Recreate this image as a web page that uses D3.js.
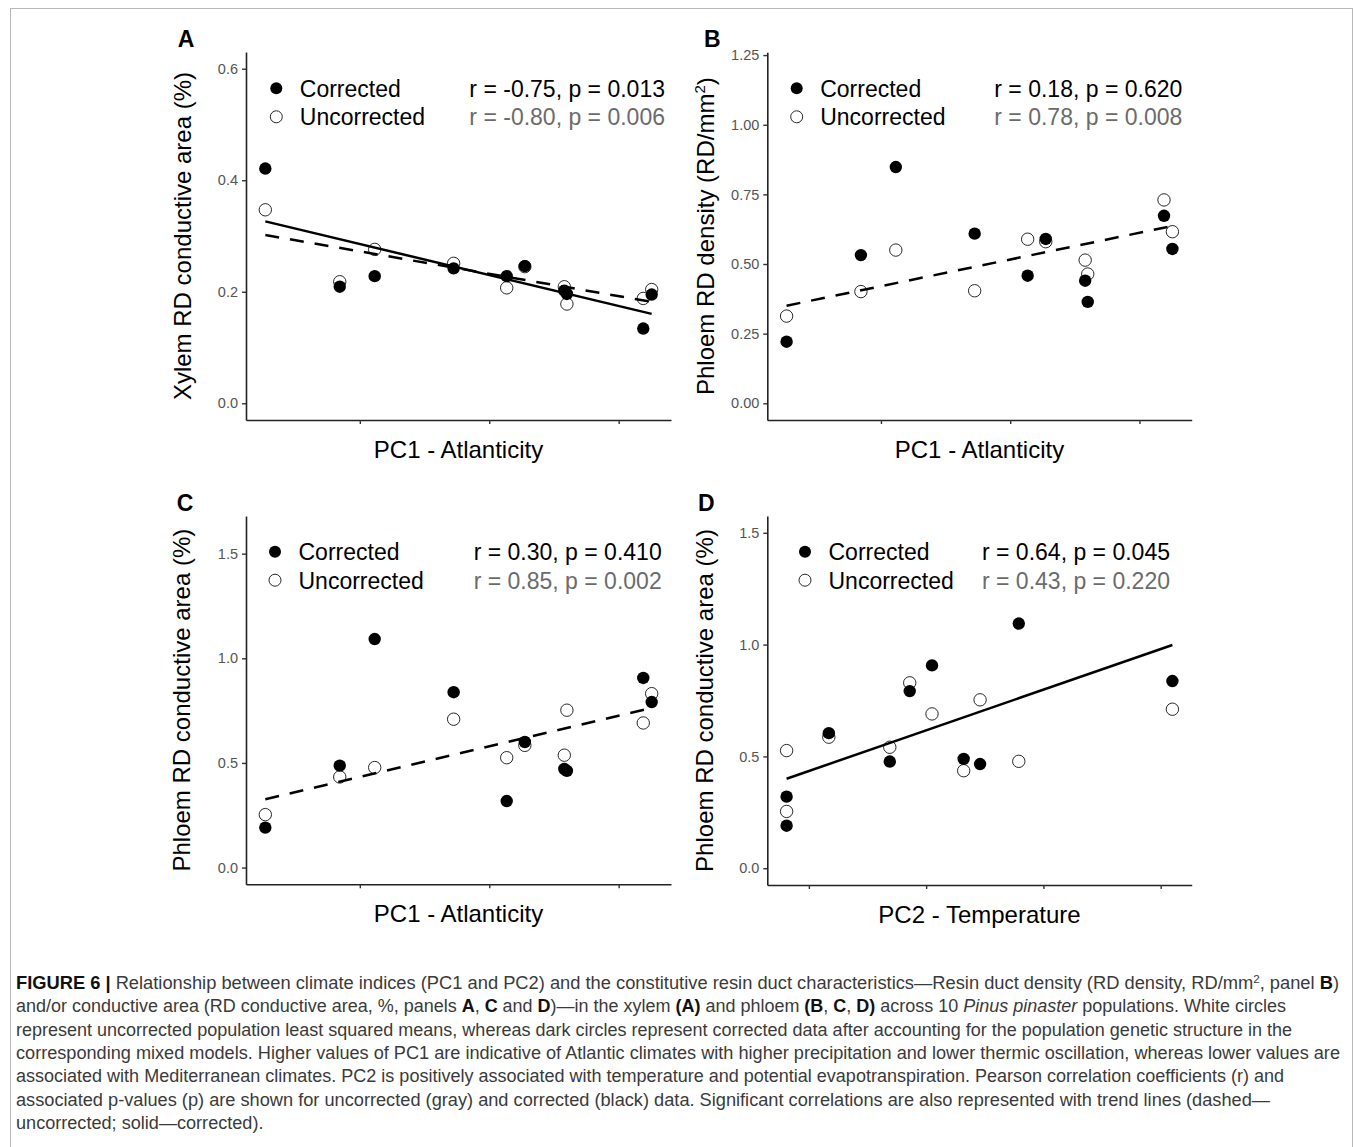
<!DOCTYPE html>
<html>
<head>
<meta charset="utf-8">
<script src="https://cdn.jsdelivr.net/npm/d3@7"></script>
<style>
  body { margin: 0; background: #fff; }
  svg { display: block; }
  text { font-family: "Liberation Sans", Arial, sans-serif; }
</style>
</head>
<body>
<svg id="fig" width="1355" height="1147"></svg>
<script>
// ---- data ----
// PC1 scores of the 10 populations (same order used in panels A, B, C)
var pc1 = [-3.46, -2.31, -1.77, -0.55, 0.27, 0.55, 1.16, 1.20, 2.38, 2.51];
// PC2 scores (order used in panel D)
var pc2 = [-1.19, -1.19, -0.83, -0.31, -0.14, 0.05, 0.32, 0.46, 0.79, 2.10];

// A - xylem RD conductive area (%)
var xylemAreaCorr = [0.421, 0.209, 0.228, 0.242, 0.228, 0.246, 0.202, 0.196, 0.134, 0.195];
var xylemAreaUnc  = [0.347, 0.218, 0.276, 0.251, 0.207, 0.245, 0.209, 0.178, 0.188, 0.204];
// B - phloem RD density (RD/mm2)
var phloemDensCorr = [0.221, 0.532, 0.848, 0.609, 0.458, 0.590, 0.440, 0.364, 0.673, 0.554];
var phloemDensUnc  = [0.313, 0.401, 0.550, 0.404, 0.589, 0.580, 0.514, 0.464, 0.730, 0.616];
// C - phloem RD conductive area (%) vs PC1
var phloemAreaCorr = [0.191, 0.487, 1.092, 0.838, 0.318, 0.600, 0.471, 0.462, 0.906, 0.791];
var phloemAreaUnc  = [0.253, 0.433, 0.478, 0.709, 0.525, 0.584, 0.537, 0.752, 0.691, 0.831];
// D - phloem RD conductive area (%) vs PC2
var phloemAreaCorrD = [0.320, 0.190, 0.604, 0.477, 0.792, 0.907, 0.489, 0.466, 1.094, 0.837];
var phloemAreaUncD  = [0.526, 0.254, 0.586, 0.541, 0.829, 0.690, 0.436, 0.753, 0.478, 0.711];

var statsA = ["r = -0.75, p = 0.013", "r = -0.80, p = 0.006"];
var statsB = ["r = 0.18, p = 0.620", "r = 0.78, p = 0.008"];
var statsC = ["r = 0.30, p = 0.410", "r = 0.85, p = 0.002"];
var statsD = ["r = 0.64, p = 0.045", "r = 0.43, p = 0.220"];

var ticksA = [0, 0.2, 0.4, 0.6];
var ticksB = [0, 0.25, 0.5, 0.75, 1, 1.25];
var ticksCD = [0, 0.5, 1, 1.5];
var xTicksPC1 = [-2, 0, 2];
var xTicksPC2 = [-1, 0, 1, 2];

var legendLabels = ["Corrected", "Uncorrected"];

var panels = [
    { letter: "A", left: 246, top: 52, width: 425, height: 368, x: pc1,
      corr: xylemAreaCorr, unc: xylemAreaUnc, yMax: 0.6, yTicks: ticksA, yFormat: ".1f",
      xTicks: xTicksPC1, fitCorr: true, fitUnc: true, stats: statsA,
      yTitle: ["Xylem RD conductive area (%)"], xTitle: "PC1 - Atlanticity",
      legX: 30.3, legY: 36.3, statsRight: 419, letterDx: -60, yTitleDx: -63 },
    { letter: "B", left: 767.3, top: 52.3, width: 424.4, height: 367.7, x: pc1,
      corr: phloemDensCorr, unc: phloemDensUnc, yMax: 1.2, yTicks: ticksB, yFormat: ".2f",
      xTicks: xTicksPC1, fitCorr: false, fitUnc: true, stats: statsB,
      yTitle: ["Phloem RD density (RD/mm", "2", ")"], xTitle: "PC1 - Atlanticity",
      legX: 29.4, legY: 36, statsRight: 415, letterDx: -55, yTitleDx: -61 },
    { letter: "C", left: 246, top: 516, width: 425, height: 368.3, x: pc1,
      corr: phloemAreaCorr, unc: phloemAreaUnc, yMax: 1.6, yTicks: ticksCD, yFormat: ".1f",
      xTicks: xTicksPC1, fitCorr: false, fitUnc: true, stats: statsC,
      yTitle: ["Phloem RD conductive area (%)"], xTitle: "PC1 - Atlanticity",
      legX: 29, legY: 35.7, statsRight: 415.7, letterDx: -61, yTitleDx: -64 },
    { letter: "D", left: 767.3, top: 516, width: 424.4, height: 369, x: pc2,
      corr: phloemAreaCorrD, unc: phloemAreaUncD, yMax: 1.5, yTicks: ticksCD, yFormat: ".1f",
      xTicks: xTicksPC2, fitCorr: true, fitUnc: false, stats: statsD,
      yTitle: ["Phloem RD conductive area (%)"], xTitle: "PC2 - Temperature",
      legX: 37.7, legY: 35.7, statsRight: 402.7, letterDx: -61, yTitleDx: -62 }
];

var svg = d3.select("#fig");

// thin grey frame of the figure box
svg.append("rect")
    .attr("x", 10.5).attr("y", 8.5)
    .attr("width", 1342).attr("height", 1160)
    .style("fill", "none")
    .style("stroke", "#b8b8b8")
    .style("stroke-width", 1);

// least squares fit, returns the line at the ends of the x range
function fitLine(xs, ys) {
    var mx = d3.mean(xs), my = d3.mean(ys);
    var sxy = d3.sum(xs, function (v, i) { return (v - mx) * (ys[i] - my); });
    var sxx = d3.sum(xs, function (v) { return (v - mx) * (v - mx); });
    var b = sxy / sxx, a = my - b * mx;
    var ext = d3.extent(xs);
    return ext.map(function (v) { return [v, a + b * v]; });
}

panels.forEach(function (p) {
    var g = svg.append("g").attr("transform", "translate(" + p.left + "," + p.top + ")");

    // ggplot style 5% expansion
    var ext = d3.extent(p.x);
    var pad = (ext[1] - ext[0]) * 0.05;
    var x = d3.scaleLinear().domain([ext[0] - pad, ext[1] + pad]).range([0, p.width]);
    var y = d3.scaleLinear().domain([-p.yMax * 0.05, p.yMax * 1.05]).range([p.height, 0]);

    var yAxis = g.append("g")
        .call(d3.axisLeft(y).tickValues(p.yTicks).tickFormat(d3.format(p.yFormat))
            .tickSize(4).tickSizeOuter(0).tickPadding(4));
    var xAxis = g.append("g")
        .attr("transform", "translate(0," + p.height + ")")
        .call(d3.axisBottom(x).tickValues(p.xTicks).tickFormat("")
            .tickSize(4).tickSizeOuter(0));

    [yAxis, xAxis].forEach(function (ax) {
        ax.select(".domain").style("stroke", "#222").style("stroke-width", 1.6);
        ax.selectAll(".tick line").style("stroke", "#333").style("stroke-width", 1.4);
        ax.selectAll(".tick text")
            .style("font-size", "14.5px")
            .style("fill", "#555")
            .style("font-family", "'Liberation Sans', Arial, sans-serif");
    });

    // points: uncorrected (open) below, corrected (filled) above
    g.selectAll("circle.unc")
        .data(p.unc)
        .enter()
        .append("circle")
        .attr("class", "unc")
        .attr("cx", function (d, i) { return x(p.x[i]); })
        .attr("cy", function (d) { return y(d); })
        .attr("r", 6.2)
        .style("fill", "#fff")
        .style("stroke", "#111")
        .style("stroke-width", 0.9);

    g.selectAll("circle.corr")
        .data(p.corr)
        .enter()
        .append("circle")
        .attr("class", "corr")
        .attr("cx", function (d, i) { return x(p.x[i]); })
        .attr("cy", function (d) { return y(d); })
        .attr("r", 6.2)
        .style("fill", "#000");

    var line = d3.line()
        .x(function (d) { return x(d[0]); })
        .y(function (d) { return y(d[1]); });

    // trend lines (dashed - uncorrected, solid - corrected)
    if (p.fitUnc) {
        g.append("path")
            .attr("d", line(fitLine(p.x, p.unc)))
            .style("fill", "none")
            .style("stroke", "#000")
            .style("stroke-width", 2.5)
            .style("stroke-dasharray", "14,11");
    }
    if (p.fitCorr) {
        g.append("path")
            .attr("d", line(fitLine(p.x, p.corr)))
            .style("fill", "none")
            .style("stroke", "#000")
            .style("stroke-width", 2.5);
    }

    // legend + correlation text
    legendLabels.forEach(function (lab, i) {
        var cy = p.legY + i * 28.5;
        g.append("circle")
            .attr("cx", p.legX)
            .attr("cy", cy)
            .attr("r", 6)
            .style("fill", i == 0 ? "#000" : "#fff")
            .style("stroke", "#111")
            .style("stroke-width", i == 0 ? 0 : 0.9);
        g.append("text")
            .attr("x", p.legX + 23.5)
            .attr("y", cy + 8.3)
            .style("font-size", "23px")
            .style("fill", "#000")
            .text(lab);
        g.append("text")
            .attr("x", p.statsRight)
            .attr("y", cy + 8.3)
            .attr("text-anchor", "end")
            .style("font-size", "23px")
            .style("fill", i == 0 ? "#000" : "#6b6b6b")
            .text(p.stats[i]);
    });

    // axis titles
    var yt = g.append("text")
        .attr("transform", "translate(" + (p.yTitleDx + 8) + "," + (p.height / 2) + ") rotate(-90)")
        .attr("text-anchor", "middle")
        .style("font-size", "24px")
        .style("fill", "#000");
    yt.append("tspan").text(p.yTitle[0]);
    if (p.yTitle.length > 1) {
        yt.append("tspan").attr("dy", -9).style("font-size", "15px").text(p.yTitle[1]);
        yt.append("tspan").attr("dy", 9).text(p.yTitle[2]);
    }

    g.append("text")
        .attr("x", p.width / 2)
        .attr("y", p.height + 38)
        .attr("text-anchor", "middle")
        .style("font-size", "24px")
        .style("fill", "#000")
        .text(p.xTitle);

    g.append("text")
        .attr("x", p.letterDx)
        .attr("y", -5.5)
        .attr("text-anchor", "middle")
        .style("font-size", "23px")
        .style("font-weight", "bold")
        .style("fill", "#000")
        .text(p.letter);
});

// ---- caption ----
// each line: list of [text, style] pieces; b = bold, i = italic, s = superscript
var captionLines = [
    [["FIGURE 6 | ", "b"], ["Relationship between climate indices (PC1 and PC2) and the constitutive resin duct characteristics\u2014Resin duct density (RD density, RD/mm", ""], ["2", "s"], [", panel ", ""], ["B", "b"], [")", ""]],
    [["and/or conductive area (RD conductive area, %, panels ", ""], ["A", "b"], [", ", ""], ["C", "b"], [" and ", ""], ["D", "b"], [")\u2014in the xylem ", ""], ["(A)", "b"], [" and phloem ", ""], ["(B", "b"], [", ", ""], ["C", "b"], [", ", ""], ["D)", "b"], [" across 10 ", ""], ["Pinus pinaster", "i"], [" populations. White circles", ""]],
    [["represent uncorrected population least squared means, whereas dark circles represent corrected data after accounting for the population genetic structure in the", ""]],
    [["corresponding mixed models. Higher values of PC1 are indicative of Atlantic climates with higher precipitation and lower thermic oscillation, whereas lower values are", ""]],
    [["associated with Mediterranean climates. PC2 is positively associated with temperature and potential evapotranspiration. Pearson correlation coefficients (r) and", ""]],
    [["associated p-values (p) are shown for uncorrected (gray) and corrected (black) data. Significant correlations are also represented with trend lines (dashed\u2014", ""]],
    [["uncorrected; solid\u2014corrected).", ""]]
];
// right ends of the full lines (the last line takes the mean squeeze)
var captionEnds = [1339, 1286, 1292, 1340, 1284, 1270, null];
var capX = 16;

var capTexts = captionLines.map(function (segs, li) {
    var t = svg.append("text")
        .attr("x", capX)
        .attr("y", 989 + li * 23.3)
        .style("font-family", "'Liberation Sans', Arial, sans-serif")
        .style("font-size", "17.5px")
        .style("fill", "#3a3a3a");
    var sup = false;
    segs.forEach(function (s) {
        var ts = t.append("tspan").text(s[0]);
        if (sup) { ts.attr("dy", 6); sup = false; }
        if (s[1] == "b") ts.style("font-weight", "bold").style("fill", "#111");
        if (s[1] == "i") ts.style("font-style", "italic");
        if (s[1] == "s") { ts.attr("dy", -6).style("font-size", "11px"); sup = true; }
    });
    return t;
});

var ratios = [];
capTexts.forEach(function (t, li) {
    if (captionEnds[li] != null) ratios.push((captionEnds[li] - capX) / t.node().getComputedTextLength());
});
var meanRatio = d3.mean(ratios);
capTexts.forEach(function (t, li) {
    var len = captionEnds[li] != null ? captionEnds[li] - capX : t.node().getComputedTextLength() * meanRatio;
    t.attr("textLength", len).attr("lengthAdjust", "spacingAndGlyphs");
});
</script>
</body>
</html>
